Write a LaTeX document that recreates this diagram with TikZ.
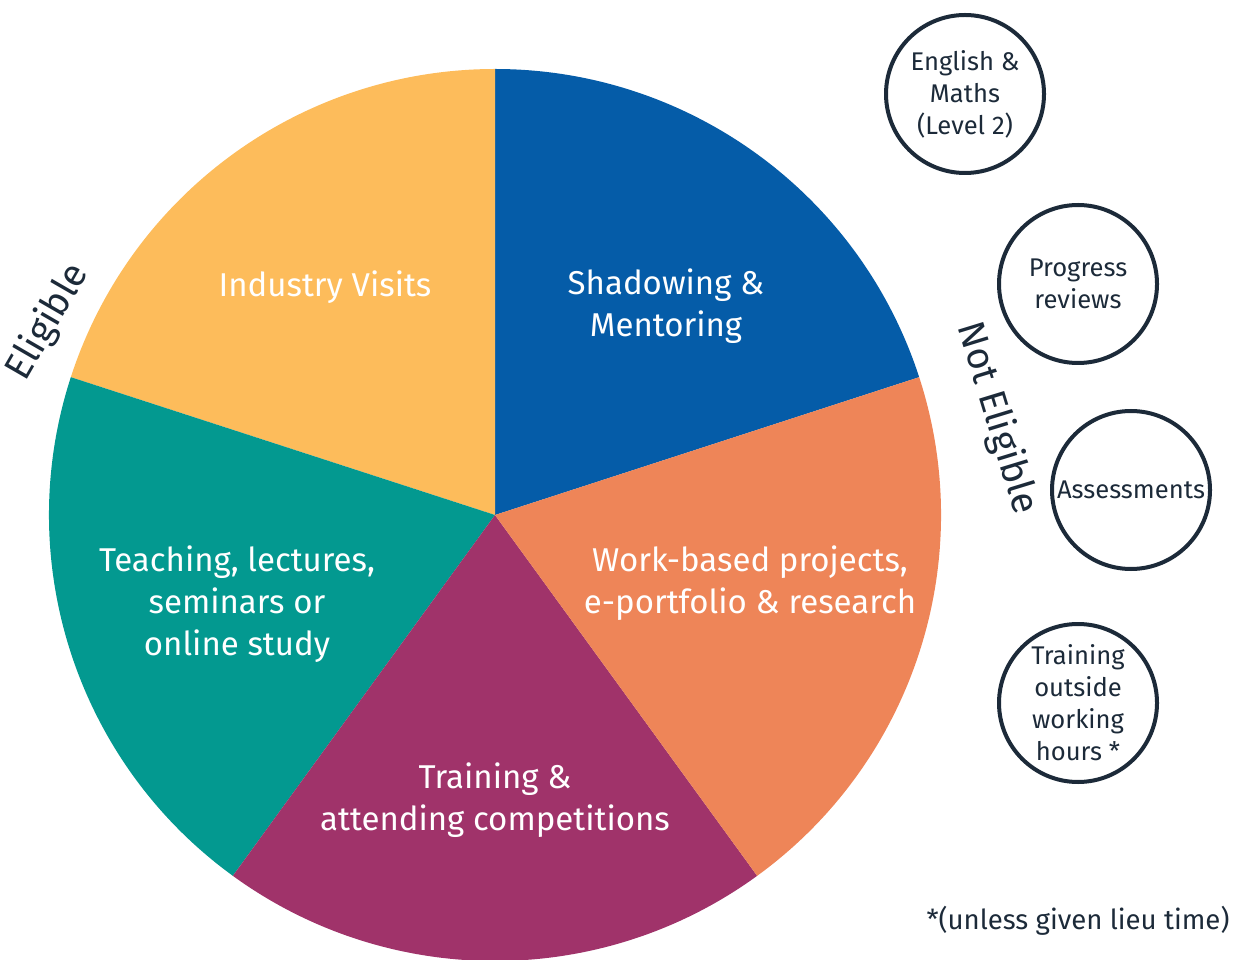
\documentclass[tikz,border=0pt]{standalone}
\usepackage{fontspec}
\setmainfont{Fira Sans}
\definecolor{segblue}{HTML}{055CA8}
\definecolor{segorange}{HTML}{EE8558}
\definecolor{segpurple}{HTML}{A0336A}
\definecolor{segteal}{HTML}{039990}
\definecolor{segyellow}{HTML}{FDBC5B}
\definecolor{inkdark}{HTML}{1C2A39}
\tikzset{
  seglabel/.style={text=white, align=center, inner sep=0pt,
    font=\fontsize{16.5}{21}\selectfont},
  ringbox/.style={draw=inkdark, line width=2pt, circle, minimum size=79pt,
    inner sep=0pt, text=inkdark, align=center,
    font=\fontsize{12.8}{16}\selectfont},
  sidelabel/.style={text=inkdark, inner sep=0pt,
    font=\fontsize{19}{22}\selectfont}
}
\begin{document}
\begin{tikzpicture}[x=0.5pt,y=0.5pt]
    \useasboundingbox (0,0) rectangle (1240,959);
    \coordinate (c) at (495,444);
    % pie segments
    \fill [segblue] (c) -- ([shift={(18:446)}]c) arc[start angle=18,end angle=90,radius=446] -- cycle;
    \fill [segyellow] (c) -- ([shift={(90:446)}]c) arc[start angle=90,end angle=162,radius=446] -- cycle;
    \fill [segteal] (c) -- ([shift={(162:446)}]c) arc[start angle=162,end angle=234,radius=446] -- cycle;
    \fill [segpurple] (c) -- ([shift={(234:446)}]c) arc[start angle=234,end angle=306,radius=446] -- cycle;
    \fill [segorange] (c) -- ([shift={(306:446)}]c) arc[start angle=306,end angle=378,radius=446] -- cycle;
    % segment labels
    \node [seglabel] (visits) at (325,672) {Industry Visits};
    \node [seglabel] (shadow) at (666,653) {Shadowing \&\\Mentoring};
    \node [seglabel] (projects) at (750,376) {Work-based projects,\\e-portfolio \& research};
    \node [seglabel] (compete) at (495,159) {Training \&\\attending competitions};
    \node [seglabel] (teaching) at (237,355) {Teaching, lectures,\\seminars or\\online study};
    % side labels
    \node [sidelabel, rotate=60] (elig) at (48,637) {Eligible};
    \node [sidelabel, rotate=-73] (notelig) at (997,541) {Not Eligible};
    % not eligible items
    \node [ringbox] (maths) at (965,865) {English \&\\Maths\\(Level 2)};
    \node [ringbox] (reviews) at (1078,675) {Progress\\reviews};
    \node [ringbox] (assess) at (1131,469) {Assessments};
    \node [ringbox] (outside) at (1078,256) {Training\\outside\\working\\hours *};
    \node [text=inkdark, inner sep=0pt, font=\fontsize{13.8}{16}\selectfont] (lieu) at (1078,38) {*(unless given lieu time)};
\end{tikzpicture}
\end{document}
